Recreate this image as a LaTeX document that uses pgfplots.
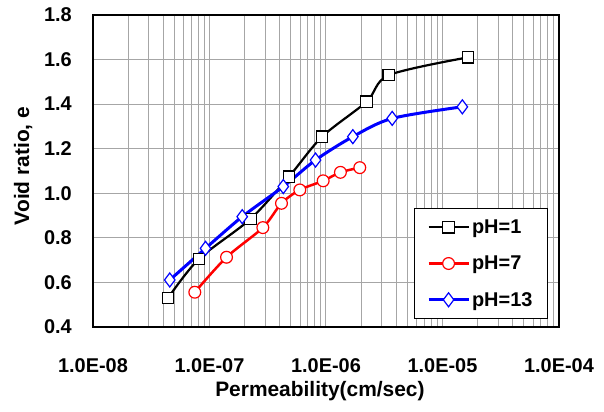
\documentclass[border=0pt]{standalone}
\usepackage{fontspec}
\setmainfont{Liberation Sans}
\usepackage{pgfplots}
\pgfplotsset{compat=1.18}
\begin{document}
\begin{tikzpicture}
\begin{axis}[
  xmode=log, scale only axis, width=466bp, height=312bp,
  xmin=1e-8, xmax=1e-4, ymin=0.4, ymax=1.8,
  xtick={1e-8,1e-7,1e-6,1e-5,1e-4},
  xticklabels={1.0E-08,1.0E-07,1.0E-06,1.0E-05,1.0E-04},
  ytick={0.4,0.6,0.8,1.0,1.2,1.4,1.6,1.8},
  yticklabel style={/pgf/number format/fixed, /pgf/number format/fixed zerofill, /pgf/number format/precision=1},
  /pgf/number format/assume math mode=true,
  xminorgrids=true, xmajorgrids=true, ymajorgrids=true,
  major grid style={draw=gray!70, line width=1bp},
  minor grid style={draw=gray!70, line width=1bp},
  axis line style={line width=2bp},
  major tick length=0pt, minor tick length=0pt,
  ticklabel style={font=\fontsize{20}{20}\selectfont\bfseries, inner sep=0pt},
  xticklabel style={anchor=base, yshift=-45.7bp},
  yticklabel style={anchor=east, xshift=-21bp},
  xlabel={Permeability(cm/sec)}, ylabel={Void ratio, e},
  label style={font=\fontsize{21}{21}\selectfont\bfseries},
  xlabel style={at={(axis description cs:0.487,-0.224)}, anchor=base},
  ylabel style={at={(axis description cs:-0.150,0.516)}, anchor=center},
  legend style={at={(0.976,0.026)}, anchor=south east, draw=black, line width=0.8bp, fill=white,
    font=\fontsize{20}{20}\selectfont\bfseries, inner xsep=13bp, inner ysep=9bp, row sep=17bp},
  legend cell align=left,
  legend image code/.code={\draw[mark repeat=2,mark phase=2] plot coordinates {(0bp,0bp)(20bp,0bp)(40bp,0bp)};},
]
\addplot[black, line width=2.2bp, smooth, tension=0.5, mark=square*, mark size=5.7bp, mark options={solid, fill=white, line width=1.2bp}] coordinates {
(4.42e-8,0.531) (8.1e-8,0.705) (2.25e-7,0.885) (4.8e-7,1.074) (9.27e-7,1.254) (2.23e-6,1.411) (3.46e-6,1.530) (1.66e-5,1.610)};
\addlegendentry{pH=1}
\addplot[red, line width=2.5bp, smooth, tension=0.5, mark=*, mark size=5.9bp, mark options={solid, fill=white, line width=1.2bp}] coordinates {
(7.48e-8,0.556) (1.40e-7,0.713) (2.87e-7,0.846) (4.15e-7,0.955) (5.96e-7,1.015) (9.46e-7,1.056) (1.33e-6,1.094) (1.95e-6,1.115)};
\addlegendentry{pH=7}
\addplot[blue, line width=3bp, smooth, tension=0.5, mark=diamond*, mark size=7bp, mark options={solid, fill=white, line width=1.2bp}] coordinates {
(4.56e-8,0.611) (9.25e-8,0.753) (1.91e-7,0.895) (4.30e-7,1.030) (8.13e-7,1.149) (1.70e-6,1.254) (3.70e-6,1.336) (1.48e-5,1.388)};
\addlegendentry{pH=13}
\end{axis}
\path (current axis.south west) ++(-93bp,-85bp) rectangle ++(604bp,412bp);
\end{tikzpicture}
\end{document}
